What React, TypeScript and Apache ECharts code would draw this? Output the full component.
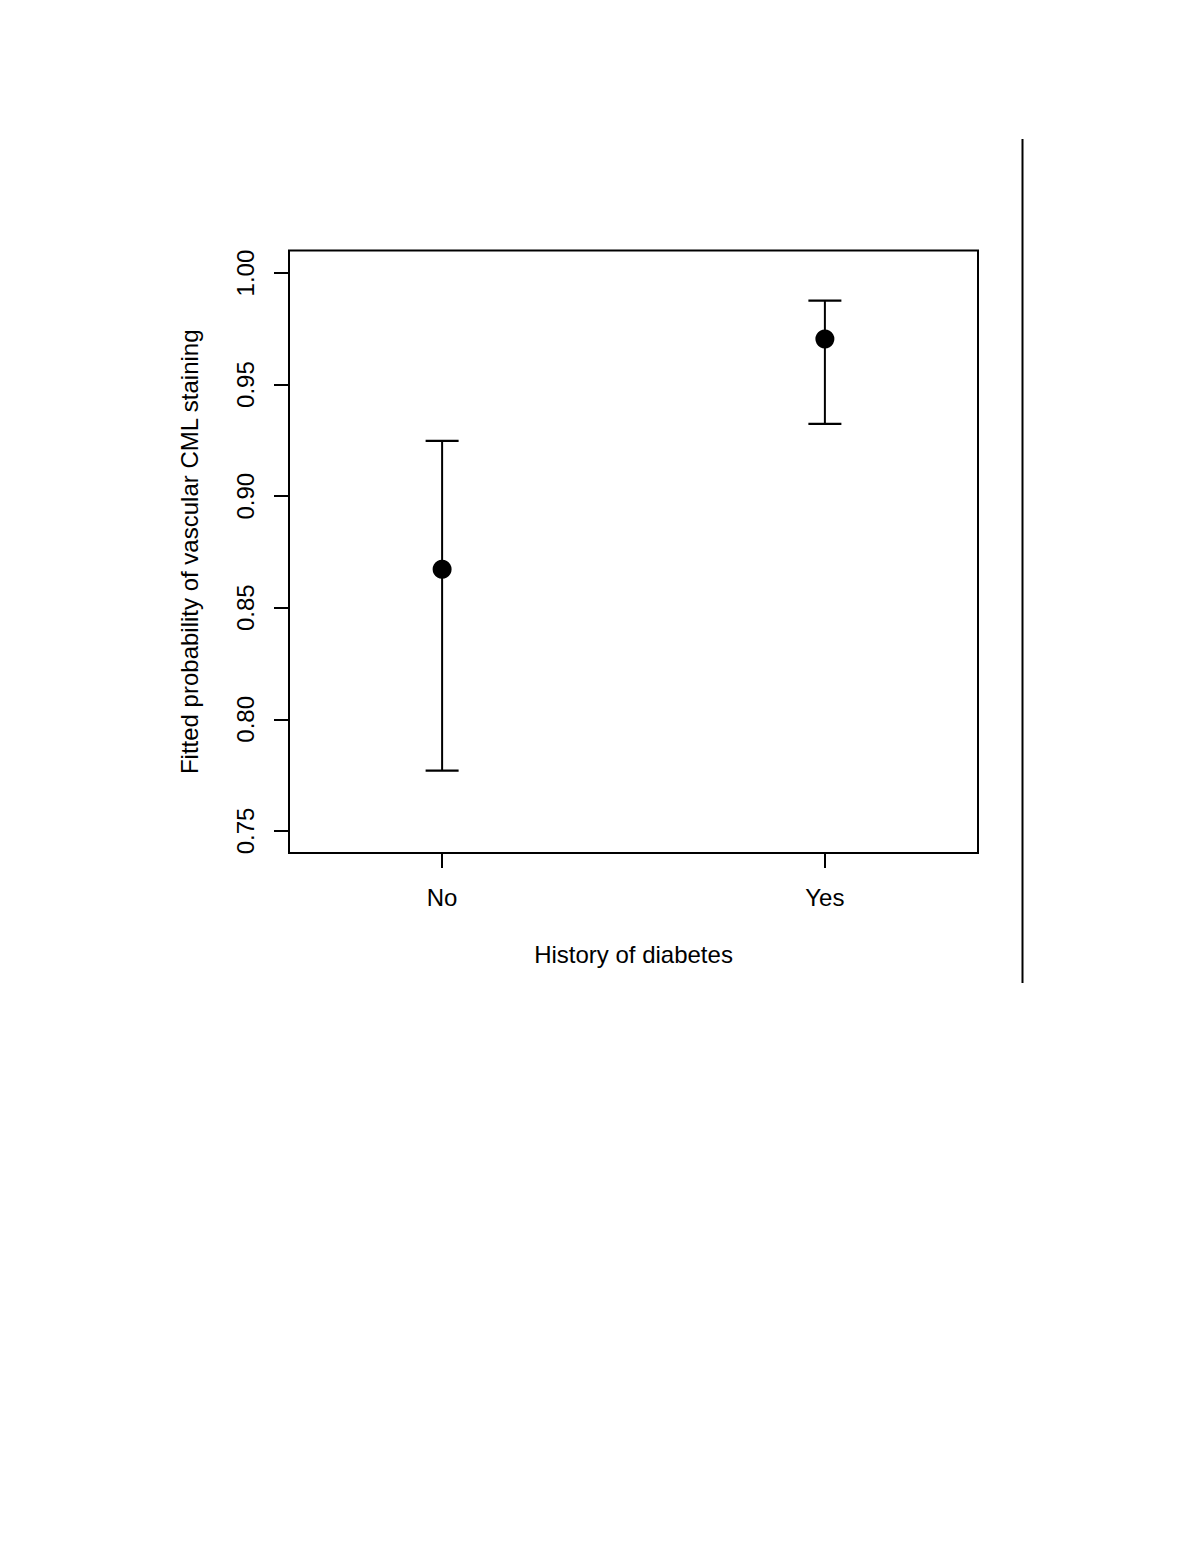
import React, { useEffect, useRef } from "react";
import * as echarts from "echarts";

const categories = ["No", "Yes"];
const categoryPositions = [1, 2];
const estimates = [0.8673, 0.9704];
const lowerCI = [0.777, 0.9324];
const upperCI = [0.9248, 0.9876];
const yTicks = [0.75, 0.8, 0.85, 0.9, 0.95, 1.0];

const FONT = "'Liberation Sans', Arial, sans-serif";

export default function App() {
  const ref = useRef<HTMLDivElement>(null);
  useEffect(() => {
    if (!ref.current) return;
    const chart = echarts.init(ref.current, undefined, { renderer: "svg" });
    const errData = categoryPositions.map((x, i) => [x, lowerCI[i], upperCI[i]]);
    const ptData = categoryPositions.map((x, i) => [x, estimates[i]]);
    chart.setOption({
      animation: false,
      backgroundColor: "#ffffff",
      grid: {
        left: 289,
        top: 250.5,
        width: 689,
        height: 602.5,
        show: true,
        borderColor: "#000",
        borderWidth: 2,
        backgroundColor: "transparent",
      },
      xAxis: {
        type: "value",
        min: 0.6,
        max: 2.4,
        name: "History of diabetes",
        nameLocation: "middle",
        nameGap: 89,
        nameTextStyle: { fontFamily: FONT, fontSize: 24, color: "#000" },
        axisLine: { show: false },
        splitLine: { show: false },
        axisTick: {
          show: true,
          inside: false,
          length: 15,
          customValues: categoryPositions,
          lineStyle: { color: "#000", width: 2 },
        },
        axisLabel: {
          customValues: categoryPositions,
          margin: 32,
          fontFamily: FONT,
          fontSize: 24,
          color: "#000",
          formatter: (v: number) => {
            const idx = categoryPositions.indexOf(Math.round(v));
            return idx >= 0 ? categories[idx] : "";
          },
        },
      },
      yAxis: {
        type: "value",
        min: 0.7401,
        max: 1.0101,
        name: "Fitted probability of vascular CML staining",
        nameLocation: "middle",
        nameRotate: 90,
        nameGap: 88,
        nameTextStyle: { fontFamily: FONT, fontSize: 24, color: "#000" },
        axisLine: { show: false },
        splitLine: { show: false },
        axisTick: {
          show: true,
          inside: false,
          length: 15,
          customValues: yTicks,
          lineStyle: { color: "#000", width: 2 },
        },
        axisLabel: {
          customValues: yTicks,
          rotate: 90,
          margin: 32,
          fontFamily: FONT,
          fontSize: 24,
          color: "#000",
          formatter: (v: number) => v.toFixed(2),
        },
      },
      series: [
        {
          type: "custom",
          data: errData,
          renderItem: (params: any, api: any) => {
            const x = api.value(0);
            const lo = api.coord([x, api.value(1)]);
            const hi = api.coord([x, api.value(2)]);
            const cap = 16.5;
            return {
              type: "group",
              children: [
                {
                  type: "line",
                  shape: { x1: lo[0], y1: lo[1], x2: hi[0], y2: hi[1] },
                  style: { stroke: "#000", lineWidth: 2 },
                },
                {
                  type: "line",
                  shape: { x1: hi[0] - cap, y1: hi[1], x2: hi[0] + cap, y2: hi[1] },
                  style: { stroke: "#000", lineWidth: 2.2 },
                },
                {
                  type: "line",
                  shape: { x1: lo[0] - cap, y1: lo[1], x2: lo[0] + cap, y2: lo[1] },
                  style: { stroke: "#000", lineWidth: 2.2 },
                },
              ],
            };
          },
          z: 2,
        },
        {
          type: "scatter",
          data: ptData,
          symbol: "circle",
          symbolSize: 19,
          itemStyle: { color: "#000", opacity: 1 },
          z: 3,
        },
      ],
      graphic: [
        {
          type: "line",
          shape: { x1: 1022.5, y1: 139, x2: 1022.5, y2: 983 },
          style: { stroke: "#000", lineWidth: 2 },
        },
      ],
    });
    return () => chart.dispose();
  }, []);
  return (
    <div
      ref={ref}
      style={{ position: "absolute", left: 0, top: 0, width: 1200, height: 1554, background: "#fff" }}
    />
  );
}
